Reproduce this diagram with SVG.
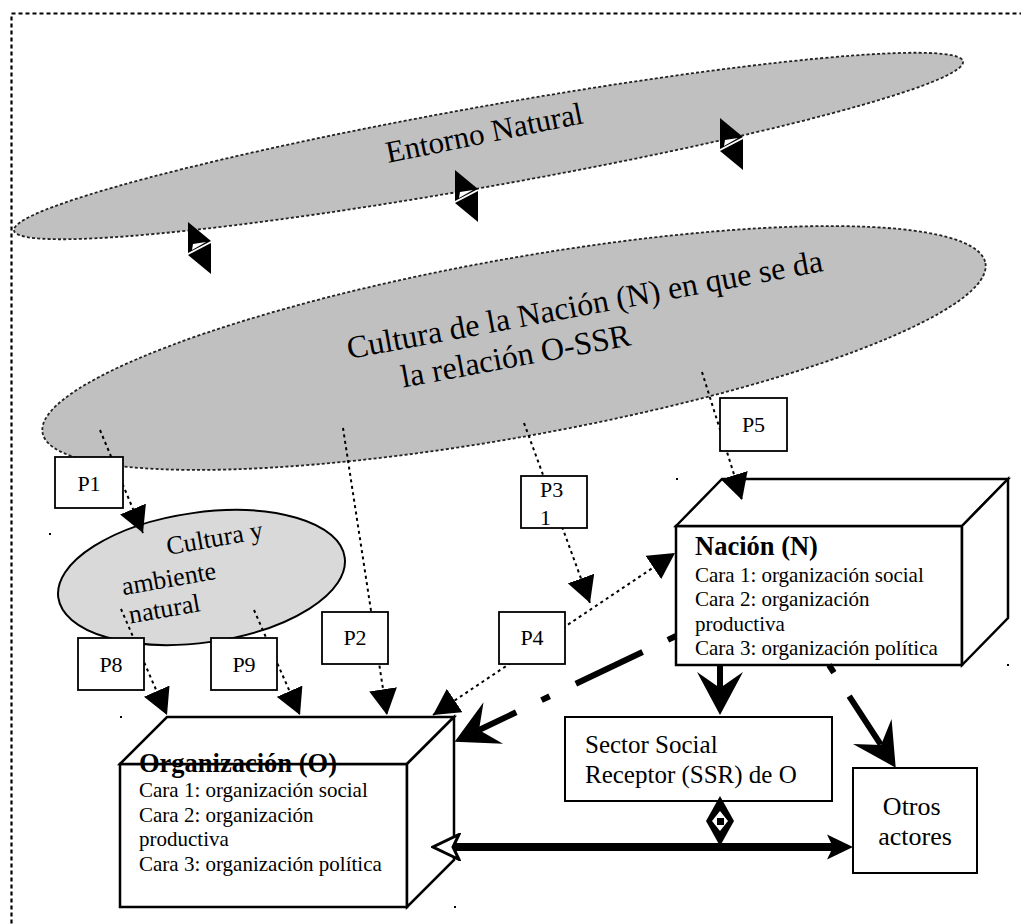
<svg xmlns="http://www.w3.org/2000/svg" width="1021" height="924" viewBox="0 0 1021 924">
  <defs>
    <style>
      .cloud { fill: #c0c0c0; stroke: #222; stroke-width: 1.8; stroke-dasharray: 3 2.2; }
      .box { fill: #fff; stroke: #000; stroke-width: 2; }
      .cube { fill: #fff; stroke: #000; stroke-width: 2.5; stroke-linejoin: miter; }
      .tag { fill: #fff; stroke: #000; stroke-width: 1.8; }
      .dot { fill: none; stroke: #000; stroke-width: 2; stroke-dasharray: 3 3.5; }
      .thick { fill: none; stroke: #000; stroke-width: 6; }
      .tick { fill: #000; }
    </style>
    <marker id="tri" viewBox="0 0 26 28" refX="26" refY="14" markerWidth="26" markerHeight="28" markerUnits="userSpaceOnUse" orient="auto-start-reverse">
      <path d="M0,0 L26,14 L0,28 Z" fill="#000"/>
    </marker>
    <marker id="stealth" viewBox="0 -23 43 46" refX="16" refY="0" markerWidth="43" markerHeight="46" markerUnits="userSpaceOnUse" orient="auto">
      <path d="M0,-23 L43,0 L0,23 L16,0 Z" fill="#000"/>
    </marker>
    <marker id="stealthS" viewBox="-2 -14 30 28" refX="6" refY="0" markerWidth="30" markerHeight="28" markerUnits="userSpaceOnUse" orient="auto">
      <path d="M0,-12.5 L26,0 L0,12.5 L6,0 Z" fill="#000"/>
    </marker>
    <marker id="stealthHollow" viewBox="-2 -14 30 28" refX="6" refY="0" markerWidth="30" markerHeight="28" markerUnits="userSpaceOnUse" orient="auto-start-reverse">
      <path d="M0,-12.5 L26,0 L0,12.5 L6,0 Z" fill="#fff" stroke="#000" stroke-width="3" stroke-linejoin="miter"/>
    </marker>
    <g id="pair">
      <polygon points="0,0 23,19 0,31" fill="#000"/>
      <polygon points="5,22 18,20 4,28" fill="#fff"/>
      <polygon points="0,33 23,21 23,52" fill="#000"/>
    </g>
  </defs>

  <rect width="1021" height="924" fill="#fff"/>

  <!-- dotted frame round the whole figure -->
  <rect x="11.5" y="13.5" width="1100" height="1000" fill="none" stroke="#000" stroke-width="2.2" stroke-dasharray="4 3"/>

  <!-- outer environment -->
  <g id="entorno">
    <ellipse class="cloud" cx="488.5" cy="146" rx="482" ry="40" transform="rotate(-10.1 488.5 146)" stroke-dasharray="2.5 1.8"/>
    <text x="388" y="163" font-family="'Liberation Serif', serif" font-size="31" transform="rotate(-11.5 388 163)">Entorno Natural</text>
  </g>

  <!-- national culture -->
  <g id="cultura-nacion">
    <ellipse class="cloud" cx="514" cy="348" rx="479" ry="89" transform="rotate(-10.2 514 348)" stroke-dasharray="3.5 2.5"/>
    <text font-family="'Liberation Serif', serif" font-size="32" transform="translate(349 359) rotate(-10.5)">
      <tspan x="0" y="0">Cultura de la Nación (N) en que se da</tspan>
      <tspan x="48" y="38">la relación O-SSR</tspan>
    </text>
  </g>

  <!-- local culture and natural surroundings -->
  <g id="cultura-ambiente">
    <ellipse cx="201.5" cy="577.5" rx="144.6" ry="65" transform="rotate(-8 201.5 577.5)" fill="#d9d9d9" stroke="#000" stroke-width="2"/>
    <text font-family="'Liberation Serif', serif" font-size="26" transform="translate(168 555) rotate(-10)">
      <tspan x="0" y="0">Cultura y</tspan>
      <tspan x="-51" y="32">ambiente</tspan>
      <tspan x="-49" y="61">natural</tspan>
    </text>
  </g>

  <!-- Organización -->
  <g id="organizacion">
    <rect class="cube" x="120" y="764" width="287" height="143"/>
    <polygon class="cube" points="120,764 167,717 454,717 407,764"/>
    <polygon class="cube" points="407,764 454,717 454,860 407,907"/>
    <text x="139" y="772" font-family="'Liberation Serif', serif" font-size="26.5" font-weight="bold">Organización (O)</text>
    <text font-family="'Liberation Serif', serif" font-size="21">
      <tspan x="139" y="797">Cara 1: organización social</tspan>
      <tspan x="139" y="822">Cara 2: organización</tspan>
      <tspan x="139" y="846">productiva</tspan>
      <tspan x="139" y="871">Cara 3: organización política</tspan>
    </text>
  </g>

  <!-- Nación -->
  <g id="nacion">
    <rect class="cube" x="676" y="526" width="286" height="139"/>
    <polygon class="cube" points="676,526 722,479 1008,479 962,526"/>
    <polygon class="cube" points="962,526 1008,479 1008,618 962,665"/>
    <text x="695" y="555" font-family="'Liberation Serif', serif" font-size="26.5" font-weight="bold">Nación (N)</text>
    <text font-family="'Liberation Serif', serif" font-size="21">
      <tspan x="695" y="582">Cara 1: organización social</tspan>
      <tspan x="695" y="606">Cara 2: organización</tspan>
      <tspan x="695" y="631">productiva</tspan>
      <tspan x="695" y="655">Cara 3: organización política</tspan>
    </text>
  </g>

  <!-- Sector Social Receptor -->
  <g id="ssr">
    <rect class="box" x="565" y="717" width="267" height="84"/>
    <text font-family="'Liberation Serif', serif" font-size="25">
      <tspan x="585" y="753">Sector Social</tspan>
      <tspan x="585" y="783">Receptor (SSR) de O</tspan>
    </text>
  </g>

  <!-- Otros actores -->
  <g id="otros">
    <rect class="box" x="853" y="768" width="124" height="105"/>
    <text font-family="'Liberation Serif', serif" font-size="26" text-anchor="middle">
      <tspan x="915" y="815">Otros</tspan>
      <tspan x="915" y="845">actores</tspan>
    </text>
  </g>

  <!-- links -->
  <g id="connectors">
    <!-- environment to national culture -->
    <use href="#pair" x="188" y="222"/>
    <use href="#pair" x="455" y="170"/>
    <use href="#pair" x="720" y="118"/>

    <!-- dotted influence paths -->
    <line class="dot" x1="100" y1="430" x2="143" y2="533" marker-end="url(#tri)"/>
    <line class="dot" x1="343" y1="428" x2="387" y2="715" marker-end="url(#tri)"/>
    <line class="dot" x1="524" y1="423" x2="590" y2="603" marker-end="url(#tri)"/>
    <line class="dot" x1="433" y1="715" x2="675" y2="553" marker-start="url(#tri)" marker-end="url(#tri)"/>
    <line class="dot" x1="702" y1="372" x2="742" y2="500" marker-end="url(#tri)"/>
    <line class="dot" x1="121" y1="609" x2="167" y2="715" marker-end="url(#tri)"/>
    <line class="dot" x1="254" y1="610" x2="300" y2="715" marker-end="url(#tri)"/>

    <!-- Nación to the other nodes -->
    <line class="thick" x1="720" y1="665" x2="720" y2="688" marker-end="url(#stealth)"/>
    <line class="thick" x1="829" y1="665" x2="881" y2="745" stroke-dasharray="9 28 58 30" marker-end="url(#stealth)"/>
    <line class="thick" x1="676" y1="636" x2="479" y2="730" stroke-dasharray="9 28 74 29" marker-end="url(#stealth)"/>

    <!-- Organización to Otros actores -->
    <line x1="453" y1="847" x2="833" y2="847" stroke="#000" stroke-width="8" marker-start="url(#stealthHollow)" marker-end="url(#stealthS)"/>

    <!-- SSR on the O-actors link -->
    <polygon points="720,796 734,821 720,846 706,821" fill="#000"/>
    <polygon points="720,811 728,821 720,831 712,821" fill="#fff"/>
    <rect x="717" y="818" width="7" height="7" fill="#000"/>
  </g>

  <!-- path labels -->
  <g id="p1"><rect class="tag" x="55" y="457" width="68" height="51"/><text x="89" y="491" font-family="'Liberation Serif', serif" font-size="22" text-anchor="middle">P1</text></g>
  <g id="p2"><rect class="tag" x="322" y="612" width="66" height="52"/><text x="355" y="645" font-family="'Liberation Serif', serif" font-size="22" text-anchor="middle">P2</text></g>
  <g id="p3"><rect class="tag" x="521" y="476" width="66" height="52"/><text font-family="'Liberation Serif', serif" font-size="22"><tspan x="540" y="497">P3</tspan><tspan x="540" y="525">1</tspan></text></g>
  <g id="p4"><rect class="tag" x="499" y="612" width="66" height="52"/><text x="532" y="645" font-family="'Liberation Serif', serif" font-size="22" text-anchor="middle">P4</text></g>
  <g id="p5"><rect class="tag" x="720" y="398" width="67" height="53"/><text x="753.5" y="432" font-family="'Liberation Serif', serif" font-size="22" text-anchor="middle">P5</text></g>
  <g id="p8"><rect class="tag" x="78" y="638" width="66" height="52"/><text x="111" y="672" font-family="'Liberation Serif', serif" font-size="22" text-anchor="middle">P8</text></g>
  <g id="p9"><rect class="tag" x="211" y="638" width="66" height="52"/><text x="244" y="672" font-family="'Liberation Serif', serif" font-size="22" text-anchor="middle">P9</text></g>

  <!-- frame corner ticks -->
  <g id="ticks">
    <rect class="tick" x="676" y="478" width="2" height="2"/>
    <rect class="tick" x="1007" y="664" width="2" height="2"/>
    <rect class="tick" x="120" y="716" width="2" height="2"/>
    <rect class="tick" x="454" y="906" width="2" height="2"/>
    <rect class="tick" x="49" y="533" width="2" height="2"/>
  </g>
</svg>
